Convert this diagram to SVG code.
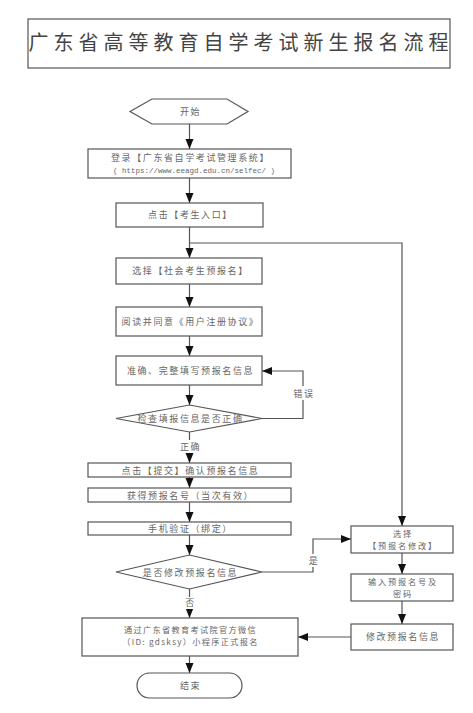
<svg xmlns="http://www.w3.org/2000/svg" width="473" height="713" viewBox="0 0 473 713">
<style>
.b{fill:#fff;stroke:#555;stroke-width:1.2}
.t{font-family:"Noto Sans CJK SC","Noto Sans",sans-serif;font-size:9px;fill:#666;text-anchor:middle;letter-spacing:1.6px}
.s{font-size:8.2px;letter-spacing:1.3px}
.r{font-size:8.2px;letter-spacing:1.8px}
.m{font-family:"Liberation Mono",monospace;font-size:7.5px;fill:#666;text-anchor:middle}
.c{fill:none;stroke:#555;stroke-width:1.2}
.lb{fill:#fff}
</style>
<defs>
<marker id="ah" markerUnits="userSpaceOnUse" markerWidth="10" markerHeight="10" viewBox="0 0 10 10" refX="10" refY="5" orient="auto">
<path d="M0,1 L10,5 L0,9 Z" fill="#111"/>
</marker>
</defs>
<rect width="473" height="713" fill="#fff"/>
<g id="title">
<rect x="28" y="19" width="422" height="49" fill="#fff" stroke="#555" stroke-width="1.2"/>
<text x="241" y="50" style="font-family:'Noto Sans CJK SC',sans-serif;font-size:20px;fill:#444;text-anchor:middle;letter-spacing:5px">广东省高等教育自学考试新生报名流程</text>
</g>
<g id="connectors">
<line class="c" x1="189.5" y1="124" x2="189.5" y2="149" marker-end="url(#ah)"/>
<line class="c" x1="189.5" y1="178" x2="189.5" y2="203" marker-end="url(#ah)"/>
<line class="c" x1="189.5" y1="227" x2="189.5" y2="258" marker-end="url(#ah)"/>
<polyline class="c" points="189.5,243 402,243 402,526" marker-end="url(#ah)"/>
<line class="c" x1="189.5" y1="284" x2="189.5" y2="307" marker-end="url(#ah)"/>
<line class="c" x1="189.5" y1="336" x2="189.5" y2="356" marker-end="url(#ah)"/>
<line class="c" x1="189.5" y1="385" x2="189.5" y2="405" marker-end="url(#ah)"/>
<polyline class="c" points="262,418.5 303,418.5 303,371 262,371" marker-end="url(#ah)"/>
<line class="c" x1="189.5" y1="432" x2="189.5" y2="463" marker-end="url(#ah)"/>
<line class="c" x1="189.5" y1="477" x2="189.5" y2="488" marker-end="url(#ah)"/>
<line class="c" x1="189.5" y1="502" x2="189.5" y2="522" marker-end="url(#ah)"/>
<line class="c" x1="189.5" y1="535" x2="189.5" y2="555" marker-end="url(#ah)"/>
<polyline class="c" points="262,572 313,572 313,539 351,539" marker-end="url(#ah)"/>
<line class="c" x1="189.5" y1="589" x2="189.5" y2="618" marker-end="url(#ah)"/>
<line class="c" x1="402" y1="553" x2="402" y2="574" marker-end="url(#ah)"/>
<line class="c" x1="402" y1="601" x2="402" y2="624" marker-end="url(#ah)"/>
<line class="c" x1="351" y1="637" x2="298" y2="637" marker-end="url(#ah)"/>
<line class="c" x1="189.5" y1="656" x2="189.5" y2="673" marker-end="url(#ah)"/>
<rect class="lb" x="292" y="386" width="22" height="14"/>
<text class="t" x="304" y="397">错误</text>
<rect class="lb" x="179" y="440" width="22" height="13"/>
<text class="t" x="190.5" y="450">正确</text>
<rect class="lb" x="307" y="554" width="12" height="13"/>
<text class="t" x="314" y="564">是</text>
<rect class="lb" x="183" y="597" width="13" height="12"/>
<text class="t" x="190.5" y="606">否</text>
</g>
<g id="start">
<polygon class="b" points="130,111.5 152,99 227,99 248,111.5 227,124 152,124"/>
<text class="t" x="190.5" y="115">开始</text>
</g>
<g id="login">
<rect class="b" x="88" y="149" width="203" height="29"/>
<text class="t" x="190.5" y="161">登录【广东省自学考试管理系统】</text>
<text class="m" x="194" y="173">( https://www.eeagd.edu.cn/selfec/ )</text>
</g>
<g id="entry">
<rect class="b" x="116" y="203" width="147" height="24"/>
<text class="t" x="190.5" y="218">点击【考生入口】</text>
</g>
<g id="select-social">
<rect class="b" x="116" y="258" width="146" height="26"/>
<text class="t" x="190.5" y="274">选择【社会考生预报名】</text>
</g>
<g id="agree">
<rect class="b" x="116" y="307" width="146" height="29"/>
<text class="t" x="190.5" y="324.5">阅读并同意《用户注册协议》</text>
</g>
<g id="fill-info">
<rect class="b" x="116" y="356" width="146" height="29"/>
<text class="t" x="190.5" y="373.5">准确、完整填写预报名信息</text>
</g>
<g id="check">
<polygon class="b" points="116,418.5 189.5,405 262,418.5 189.5,432"/>
<text class="t" x="190.5" y="422">检查填报信息是否正确</text>
</g>
<g id="submit">
<rect class="b" x="88" y="463" width="203" height="14"/>
<text class="t" x="190.5" y="473.5">点击【提交】确认预报名信息</text>
</g>
<g id="get-number">
<rect class="b" x="88" y="488" width="203" height="14"/>
<text class="t" x="190.5" y="498.5">获得预报名号（当次有效）</text>
</g>
<g id="phone">
<rect class="b" x="88" y="522" width="203" height="13"/>
<text class="t" x="190.5" y="532">手机验证（绑定）</text>
</g>
<g id="modify-q">
<polygon class="b" points="116,572 189.5,555 262,572 189.5,589"/>
<text class="t" x="190.5" y="575.5">是否修改预报名信息</text>
</g>
<g id="select-modify">
<rect class="b" x="351" y="526" width="102" height="27"/>
<text class="t r" x="403" y="536.5">选择</text>
<text class="t r" x="403" y="548.5">【预报名修改】</text>
</g>
<g id="input">
<rect class="b" x="351" y="574" width="102" height="27"/>
<text class="t r" x="403" y="584.5">输入预报名号及</text>
<text class="t r" x="403" y="596.5">密码</text>
</g>
<g id="modify">
<rect class="b" x="351" y="624" width="102" height="26"/>
<text class="t" x="403" y="640">修改预报名信息</text>
</g>
<g id="apply">
<rect class="b" x="82" y="618" width="216" height="38"/>
<text class="t s" x="190.5" y="633">通过广东省教育考试院官方微信</text>
<text class="t s" x="190.5" y="645">（ID: gdsksy）小程序正式报名</text>
</g>
<g id="end">
<rect class="b" x="137" y="673" width="105" height="25" rx="12.5"/>
<text class="t" x="190.5" y="689">结束</text>
</g>
</svg>
